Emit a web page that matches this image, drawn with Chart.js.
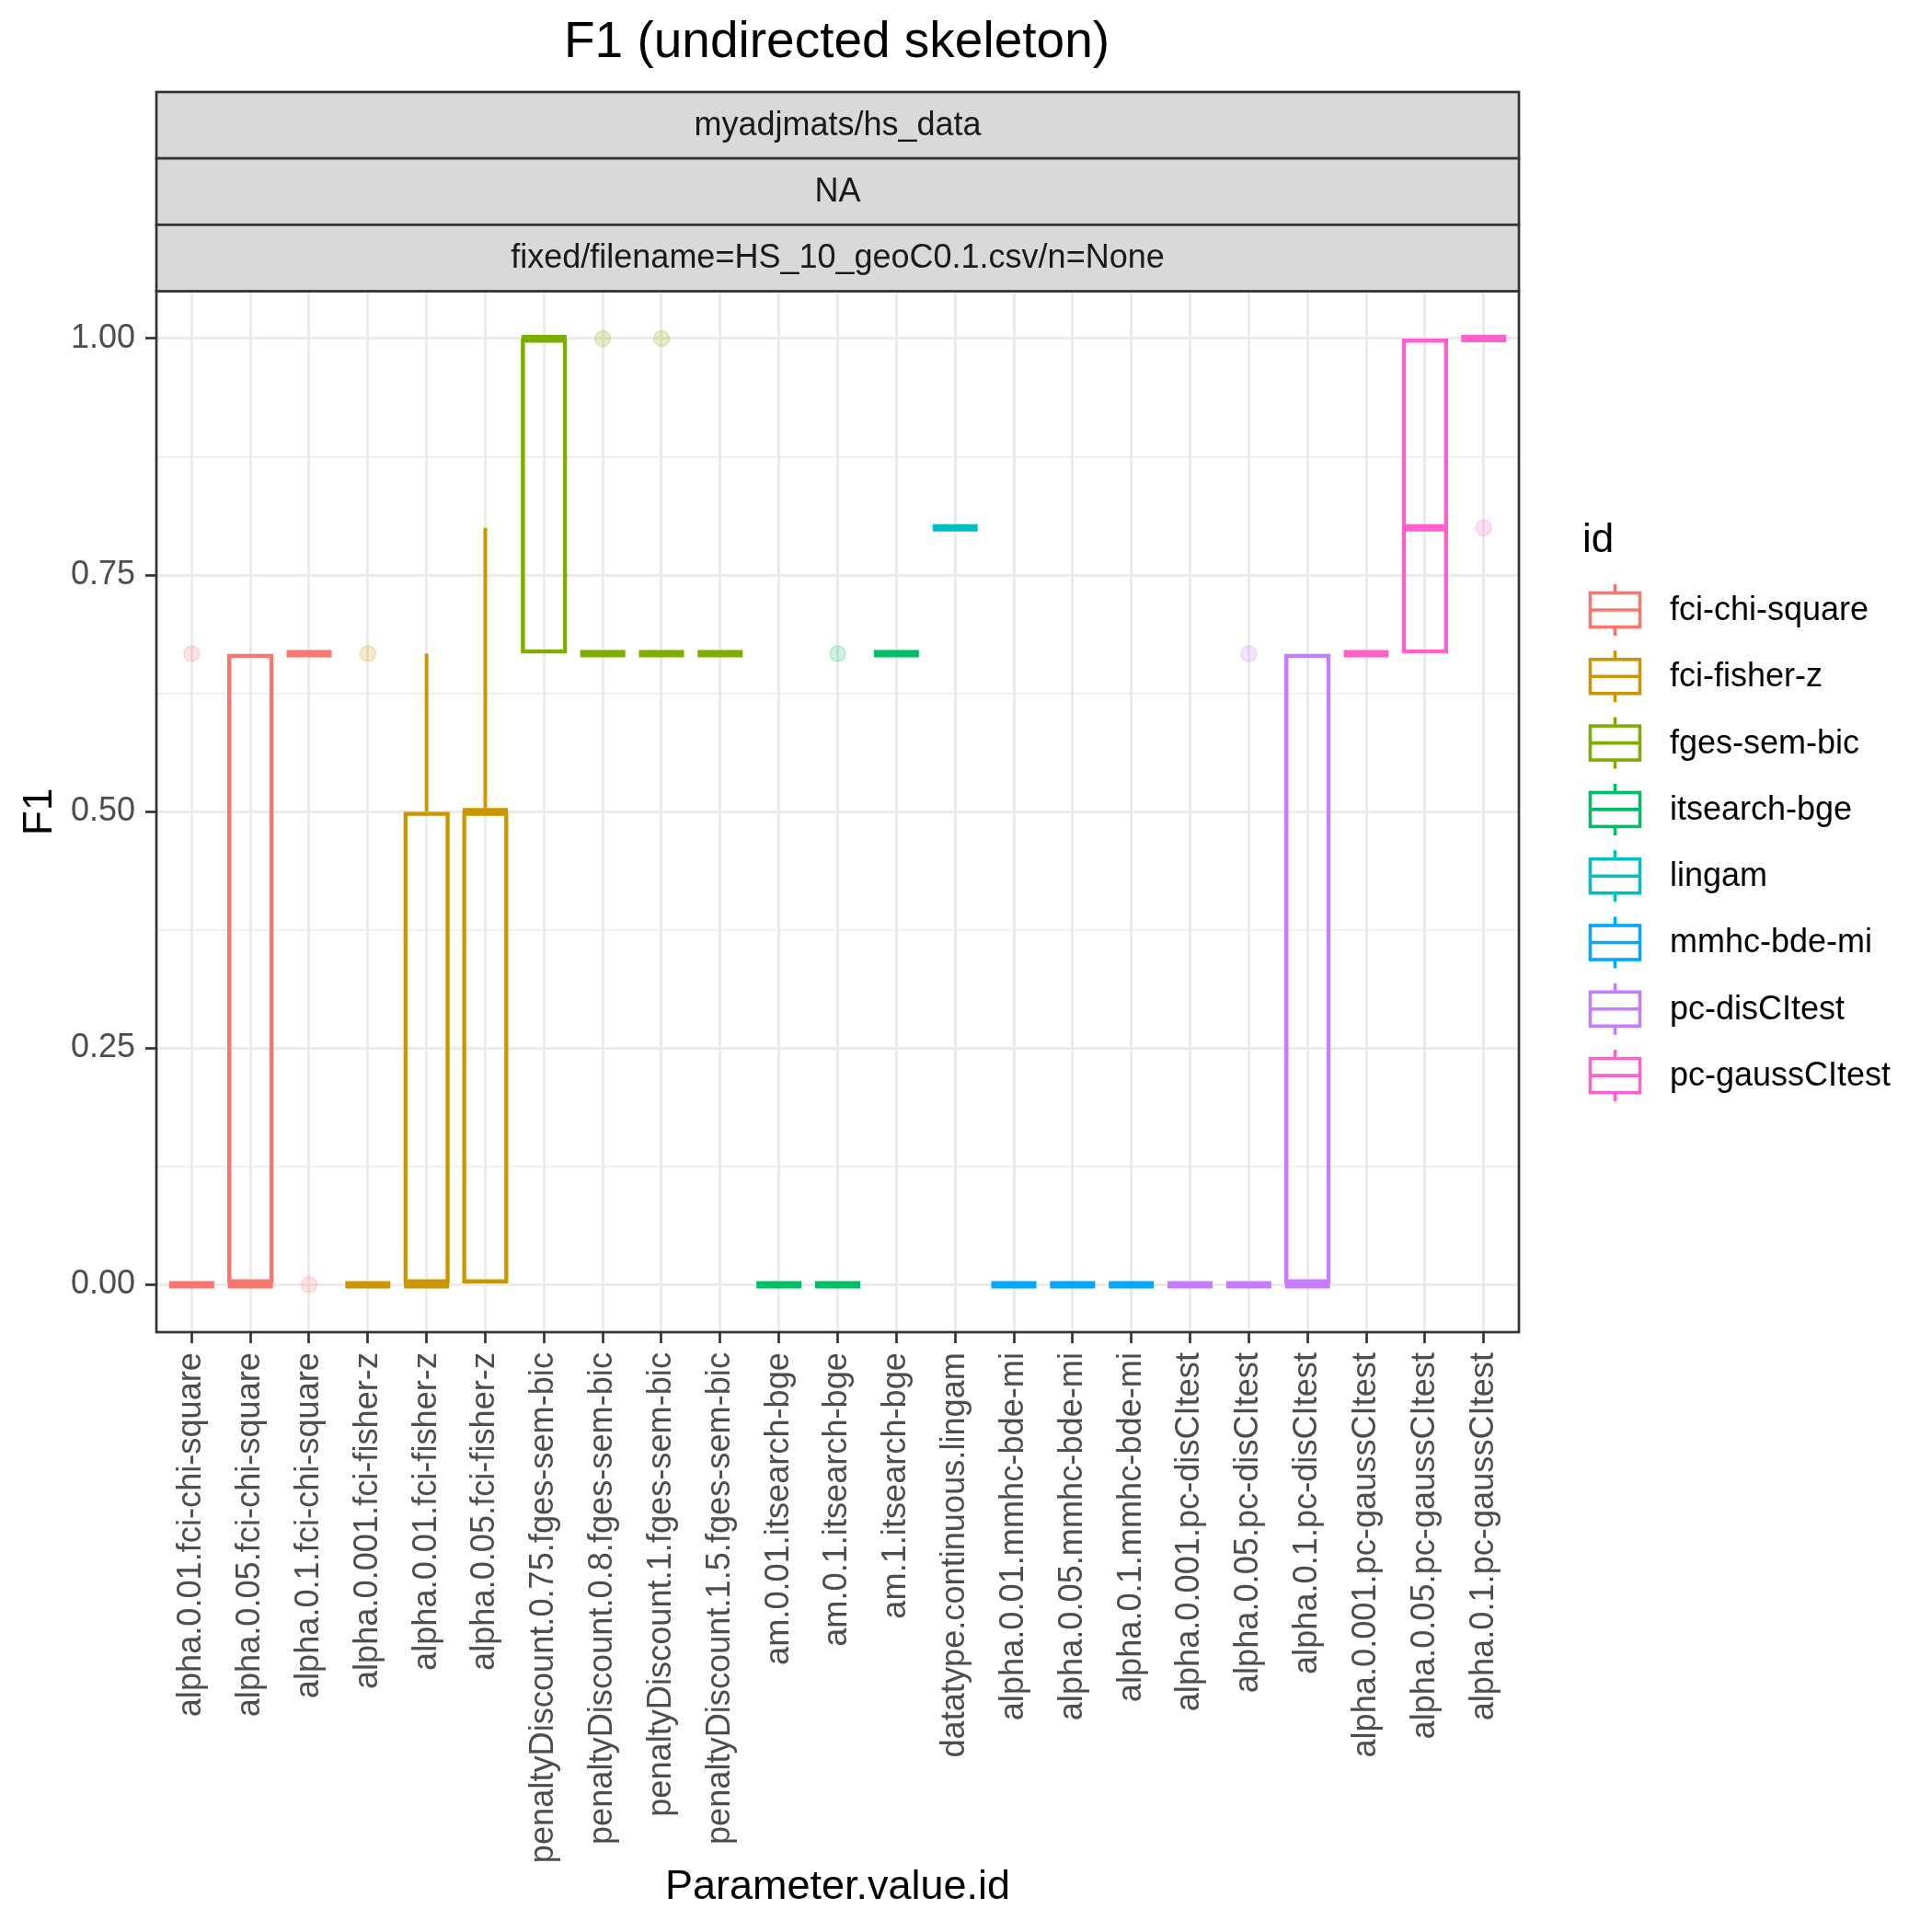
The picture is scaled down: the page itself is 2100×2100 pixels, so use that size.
<!DOCTYPE html>
<html>
<head>
<meta charset="utf-8">
<title>F1 (undirected skeleton)</title>
<script src="https://cdn.jsdelivr.net/npm/chart.js@4.4.1/dist/chart.umd.min.js"></script>
<style>
  html, body { margin: 0; padding: 0; background: #ffffff; }
  canvas { display: block; }
</style>
</head>
<body>
<canvas id="f1Chart" width="2100" height="2100"></canvas>
<script>
// x categories (Parameter.value.id), one box each
const categories = [
  'alpha.0.01.fci-chi-square', 'alpha.0.05.fci-chi-square', 'alpha.0.1.fci-chi-square',
  'alpha.0.001.fci-fisher-z', 'alpha.0.01.fci-fisher-z', 'alpha.0.05.fci-fisher-z',
  'penaltyDiscount.0.75.fges-sem-bic', 'penaltyDiscount.0.8.fges-sem-bic',
  'penaltyDiscount.1.fges-sem-bic', 'penaltyDiscount.1.5.fges-sem-bic',
  'am.0.01.itsearch-bge', 'am.0.1.itsearch-bge', 'am.1.itsearch-bge',
  'datatype.continuous.lingam',
  'alpha.0.01.mmhc-bde-mi', 'alpha.0.05.mmhc-bde-mi', 'alpha.0.1.mmhc-bde-mi',
  'alpha.0.001.pc-disCItest', 'alpha.0.05.pc-disCItest', 'alpha.0.1.pc-disCItest',
  'alpha.0.001.pc-gaussCItest', 'alpha.0.05.pc-gaussCItest', 'alpha.0.1.pc-gaussCItest'
];
// legend groups (id) and which group each category belongs to
const groupNames = ['fci-chi-square', 'fci-fisher-z', 'fges-sem-bic', 'itsearch-bge',
  'lingam', 'mmhc-bde-mi', 'pc-disCItest', 'pc-gaussCItest'];
const groupColors = ['#F8766D', '#CD9600', '#7CAE00', '#00BE67',
  '#00BFC4', '#00A9FF', '#C77CFF', '#FF61CC'];
const groupOf = [0, 0, 0, 1, 1, 1, 2, 2, 2, 2, 3, 3, 3, 4, 5, 5, 5, 6, 6, 6, 7, 7, 7];

const stripLabels = ['myadjmats/hs_data', 'NA', 'fixed/filename=HS_10_geoC0.1.csv/n=None'];

// box statistics
const boxLow = [0, 0, 0.667, 0, 0, 0, 0.667, 0.667, 0.667, 0.667, 0, 0, 0.667, 0.8, 0, 0, 0, 0, 0, 0, 0.667, 0.667, 1];
const boxMedian = [0, 0, 0.667, 0, 0, 0.5, 1, 0.667, 0.667, 0.667, 0, 0, 0.667, 0.8, 0, 0, 0, 0, 0, 0, 0.667, 0.8, 1];
const boxHigh = [0, 0.667, 0.667, 0, 0.5, 0.5, 1, 0.667, 0.667, 0.667, 0, 0, 0.667, 0.8, 0, 0, 0, 0, 0, 0.667, 0.667, 1, 1];
const whiskerLow = [0, 0, 0.667, 0, 0, 0, 0.667, 0.667, 0.667, 0.667, 0, 0, 0.667, 0.8, 0, 0, 0, 0, 0, 0, 0.667, 0.667, 1];
const whiskerHigh = [0, 0.667, 0.667, 0, 0.667, 0.8, 1, 0.667, 0.667, 0.667, 0, 0, 0.667, 0.8, 0, 0, 0, 0, 0, 0.667, 0.667, 1, 1];
const outliers = [[0.667], [], [0], [0.667], [], [], [], [1], [1], [], [], [0.667], [], [], [], [], [], [], [0.667], [], [], [], [0.8]];

const yMajorTicks = [0, 0.25, 0.5, 0.75, 1];

const fontFamily = '"Liberation Sans", Arial, Helvetica, sans-serif';
const lineW = 4.5;

function colorOf(i) { return groupColors[groupOf[i]]; }
function fade(hex, a) {
  const n = parseInt(hex.slice(1), 16);
  return `rgba(${(n >> 16) & 255}, ${(n >> 8) & 255}, ${n & 255}, ${a})`;
}
function isMajor(v) { return yMajorTicks.some(t => Math.abs(t - v) < 1e-6); }

// ---- datasets ----
const datasets = [];

// whiskers, one line dataset per group (gaps between segments)
groupNames.forEach(function (name, g) {
  const pts = [];
  categories.forEach(function (c, i) {
    if (groupOf[i] !== g) return;
    if (whiskerHigh[i] > boxHigh[i]) {
      pts.push({ x: i, y: boxHigh[i] }, { x: i, y: whiskerHigh[i] }, { x: i + 0.5, y: null });
    }
    if (whiskerLow[i] < boxLow[i]) {
      pts.push({ x: i, y: whiskerLow[i] }, { x: i, y: boxLow[i] }, { x: i + 0.5, y: null });
    }
  });
  if (pts.length) {
    datasets.push({
      type: 'line',
      label: name + ' whisker',
      data: pts,
      borderColor: groupColors[g],
      borderWidth: 4,
      pointRadius: 0,
      spanGaps: false,
      fill: false,
      order: 4
    });
  }
});

// boxes as floating bars
const boxIdx = categories.map((c, i) => i).filter(i => boxHigh[i] > boxLow[i]);
datasets.push({
  type: 'bar',
  label: 'box',
  data: boxIdx.map(i => ({ x: i, y: [boxLow[i], boxHigh[i]] })),
  backgroundColor: 'rgba(0,0,0,0)',
  borderColor: boxIdx.map(colorOf),
  borderWidth: lineW,
  borderSkipped: false,
  barPercentage: 0.79,
  categoryPercentage: 1,
  grouped: false,
  order: 3
});

// medians as thick horizontal lines
datasets.push({
  type: 'scatter',
  label: 'median',
  data: categories.map((c, i) => ({ x: i, y: boxMedian[i] })),
  pointStyle: 'line',
  pointRadius: 24.5,
  pointBorderWidth: 8,
  pointBorderColor: categories.map((c, i) => colorOf(i)),
  order: 2
});

// outliers
const outPts = [];
outliers.forEach(function (vals, i) {
  vals.forEach(v => outPts.push({ x: i, y: v, c: colorOf(i) }));
});
datasets.push({
  type: 'scatter',
  label: 'outlier',
  data: outPts,
  pointRadius: 8.5,
  pointBackgroundColor: outPts.map(p => fade(p.c, 0.2)),
  pointBorderColor: outPts.map(p => fade(p.c, 0.24)),
  pointBorderWidth: 1.5,
  order: 1
});

// ---- decorations: strips, title, panel border, legend ----
const ggDecor = {
  id: 'ggDecor',
  beforeDraw(chart) {
    const ctx = chart.ctx;
    ctx.save();
    ctx.fillStyle = '#ffffff';
    ctx.fillRect(0, 0, chart.width, chart.height);
    ctx.restore();
  },
  afterDraw(chart) {
    const ctx = chart.ctx;
    const a = chart.chartArea;
    ctx.save();

    // panel border
    ctx.strokeStyle = '#333333';
    ctx.lineWidth = 2.7;
    ctx.strokeRect(a.left, a.top, a.right - a.left, a.bottom - a.top);

    // facet strips
    const stripTop = 100;
    const stripH = (a.top - stripTop) / stripLabels.length;
    stripLabels.forEach(function (txt, k) {
      const y0 = stripTop + k * stripH;
      ctx.fillStyle = '#D9D9D9';
      ctx.fillRect(a.left, y0, a.right - a.left, stripH);
      ctx.strokeStyle = '#333333';
      ctx.lineWidth = 2.7;
      ctx.strokeRect(a.left, y0, a.right - a.left, stripH);
      ctx.fillStyle = '#1A1A1A';
      ctx.font = '36px ' + fontFamily;
      ctx.textAlign = 'center';
      ctx.textBaseline = 'middle';
      ctx.fillText(txt, (a.left + a.right) / 2, y0 + stripH / 2 + 1);
    });

    // plot title
    ctx.fillStyle = '#000000';
    ctx.font = '55px ' + fontFamily;
    ctx.textAlign = 'center';
    ctx.textBaseline = 'middle';
    ctx.fillText('F1 (undirected skeleton)', (a.left + a.right) / 2 - 1, 47);

    // legend
    const lx = 1728.5, kw = 54, kh = 37, y0 = 663, dy = 72.3;
    ctx.textAlign = 'left';
    ctx.textBaseline = 'alphabetic';
    ctx.font = '44px ' + fontFamily;
    ctx.fillText('id', 1720, 600);
    groupNames.forEach(function (name, g) {
      const cy = y0 + g * dy;
      const cx = lx + kw / 2;
      ctx.strokeStyle = groupColors[g];
      ctx.lineWidth = 3.6;
      ctx.strokeRect(lx, cy - kh / 2, kw, kh);
      ctx.beginPath();
      ctx.moveTo(lx, cy);
      ctx.lineTo(lx + kw, cy);
      ctx.moveTo(cx, cy - kh / 2);
      ctx.lineTo(cx, cy - kh / 2 - 9.5);
      ctx.moveTo(cx, cy + kh / 2);
      ctx.lineTo(cx, cy + kh / 2 + 9.5);
      ctx.stroke();
      ctx.fillStyle = '#000000';
      ctx.font = '36px ' + fontFamily;
      ctx.textBaseline = 'middle';
      ctx.fillText(name, 1815, cy + 1);
    });
    ctx.restore();
  }
};

const ctx = document.getElementById('f1Chart').getContext('2d');
const f1Chart = new Chart(ctx, {
  type: 'bar',
  data: { datasets: datasets },
  plugins: [ggDecor],
  options: {
    responsive: false,
    devicePixelRatio: 1,
    animation: false,
    events: [],
    layout: { padding: { top: 316.5, right: 449, left: 0, bottom: 0 } },
    plugins: {
      legend: { display: false },
      tooltip: { enabled: false },
      title: { display: false }
    },
    scales: {
      x: {
        type: 'linear',
        min: -0.6,
        max: 22.6,
        offset: false,
        afterFit(scale) { scale.height = 652; },
        border: { display: false },
        grid: {
          offset: false,
          color: '#EBEBEB',
          lineWidth: 3,
          tickColor: '#333333',
          tickWidth: 2.7,
          tickLength: 12
        },
        ticks: {
          stepSize: 1,
          includeBounds: false,
          autoSkip: false,
          minRotation: 90,
          maxRotation: 90,
          padding: 10,
          color: '#4D4D4D',
          font: { family: fontFamily, size: 36.2 },
          callback: (v) => categories[v] !== undefined ? categories[v] : ''
        },
        title: {
          display: true,
          text: 'Parameter.value.id',
          color: '#000000',
          font: { family: fontFamily, size: 45 },
          padding: { top: 0, bottom: 21 }
        }
      },
      y: {
        type: 'linear',
        min: -0.05,
        max: 1.05,
        afterFit(scale) { scale.width = 170; },
        border: { display: false },
        grid: {
          color: '#EBEBEB',
          lineWidth: (c) => isMajor(c.tick.value) ? 3 : 1.5,
          tickColor: (c) => isMajor(c.tick.value) ? '#333333' : 'rgba(0,0,0,0)',
          tickWidth: 2.7,
          tickLength: 12
        },
        ticks: {
          stepSize: 0.125,
          includeBounds: false,
          padding: 11,
          color: '#4D4D4D',
          font: { family: fontFamily, size: 36 },
          callback: (v) => isMajor(v) ? v.toFixed(2) : ''
        },
        title: {
          display: true,
          text: 'F1',
          color: '#000000',
          font: { family: fontFamily, size: 44 },
          padding: { top: 17, bottom: 0 }
        }
      }
    }
  }
});
</script>
</body>
</html>
